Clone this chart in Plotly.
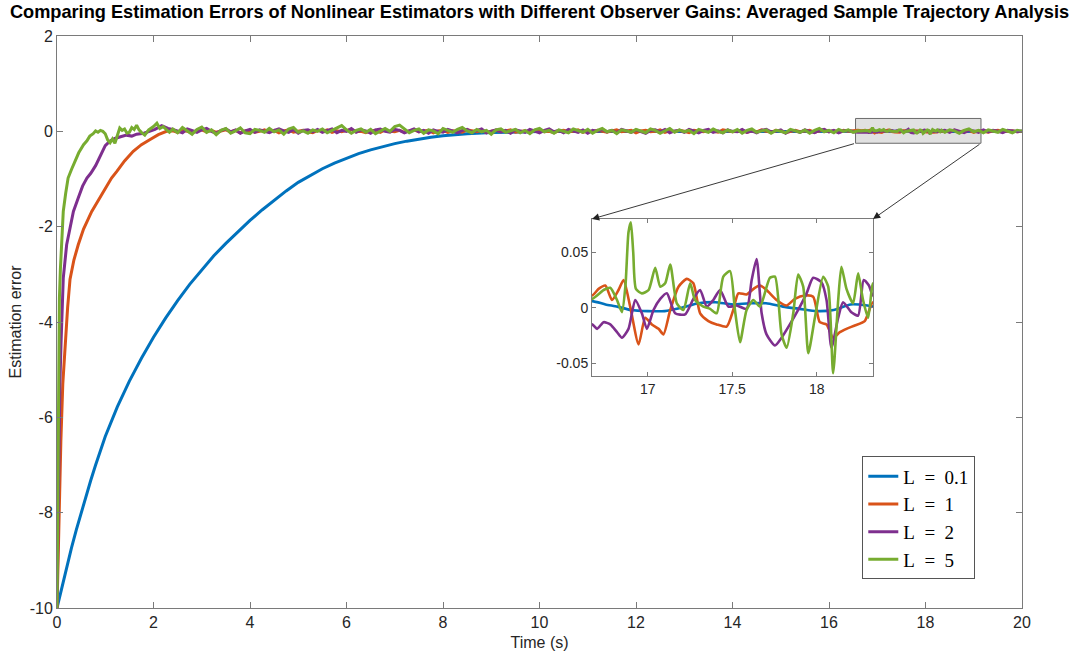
import numpy as np
import plotly.graph_objects as go

# ---------------- data ----------------
# L = 0.1 (slow, smooth decay)
t_l01 = [0, 0.1, 0.2, 0.3, 0.4, 0.5, 0.6, 0.7, 0.8, 0.9, 1.0, 1.25, 1.5, 1.75, 2.0, 2.25,
         2.5, 2.75, 3.0, 3.25, 3.5, 3.75, 4.0, 4.25, 4.5, 4.75, 5.0, 5.25, 5.5, 5.75, 6.0,
         6.25, 6.5, 6.75, 7.0, 7.25, 7.5, 7.75, 8.0, 8.5, 9.0, 9.5, 10.0, 10.5, 11.0, 11.5,
         12.0, 12.5, 13.0, 13.5, 14.0, 14.5, 15.0, 15.5, 16.0, 16.5,
         16.67, 16.75, 16.82, 16.9, 17.0, 17.1, 17.2, 17.3, 17.4, 17.5, 17.6, 17.7, 17.8,
         17.9, 18.0, 18.1, 18.2, 18.3, 18.333,
         18.5, 19.0, 19.5, 20.0]
e_l01 = [-10, -9.56, -9.14, -8.74, -8.36, -8.0, -7.65, -7.32, -7.0, -6.69, -6.40, -5.78,
         -5.24, -4.76, -4.32, -3.92, -3.55, -3.21, -2.90, -2.61, -2.35, -2.10, -1.87, -1.65,
         -1.44, -1.25, -1.07, -0.92, -0.785, -0.665, -0.56,
         -0.468, -0.388, -0.318, -0.258, -0.206, -0.162, -0.125, -0.095, -0.052, -0.027,
         -0.013, -0.005, -0.001, 0.0, 0.004,
         0.003, -0.002, -0.004, 0.0, 0.004, 0.003, -0.002, -0.004, 0.0, 0.004,
         0.006, 0.003, 0.001, -0.002, -0.003, -0.003, 0.0, 0.004, 0.005, 0.003, 0.004,
         0.004, 0.001, -0.001, -0.003, -0.002, 0.003, 0.002, 0.001,
         -0.002, -0.003, 0.001, 0.003]

# transient part of the faster estimators
t_l1_early = [0, 0.04, 0.08, 0.12, 0.17, 0.22, 0.27, 0.35, 0.44, 0.55, 0.72, 0.86, 1.0, 1.13,
              1.24, 1.4, 1.58, 1.75, 1.93, 2.1, 2.27]
e_l1_early = [-10, -8.0, -6.5, -5.3, -4.45, -3.7, -3.1, -2.7, -2.38, -2.05, -1.68, -1.45,
              -1.2, -0.98, -0.84, -0.62, -0.42, -0.28, -0.17, -0.07, 0.0]

t_l2_early = [0, 0.02, 0.04, 0.06, 0.083, 0.13, 0.2, 0.27, 0.34, 0.44, 0.53, 0.62, 0.7, 0.8,
              0.9, 1.0, 1.1, 1.2, 1.3, 1.44, 1.55, 1.65, 1.8, 1.9, 2.03, 2.17, 2.3]
e_l2_early = [-10, -8.0, -6.5, -5.3, -4.47, -3.08, -2.38, -2.0, -1.68, -1.4, -1.15, -0.98,
              -0.88, -0.72, -0.52, -0.3, -0.2, -0.15, -0.12, -0.08, -0.1, -0.06, -0.04,
              -0.01, 0.04, 0.12, 0.06]

t_l5_early = [0, 0.01, 0.02, 0.03, 0.05, 0.07, 0.1, 0.13, 0.18, 0.23, 0.3, 0.37, 0.45, 0.55,
              0.62, 0.68, 0.75, 0.8, 0.85, 0.9, 0.95, 1.0, 1.05, 1.1, 1.15, 1.2, 1.25, 1.3,
              1.35, 1.4, 1.45, 1.5, 1.55, 1.6, 1.65, 1.7, 1.75, 1.82, 1.9, 1.95, 2.0, 2.07,
              2.13, 2.2, 2.27, 2.33]
e_l5_early = [-10, -8.5, -6.5, -4.5, -3.5, -2.9, -2.38, -1.68, -1.3, -0.98, -0.8, -0.63,
              -0.45, -0.28, -0.2, -0.1, -0.05, 0.01, -0.02, 0.02, 0.0, -0.05, -0.18, -0.24,
              -0.16, -0.25, -0.1, 0.07, 0.02, 0.05, -0.04, -0.02, 0.08, 0.04, 0.13, 0.03,
              -0.02, -0.08, 0.03, 0.06, 0.1, 0.17, 0.06, 0.1, 0.04, -0.02]

# steady-state fluctuation, sampled every 0.1 s from 2.4 s to 16.6 s
t_mid = np.round(np.arange(2.4, 16.65, 0.1), 2)
e_l1_mid = [0.01, -0.02, 0.02, 0.00, -0.03, 0.01, 0.03, -0.01, 0.02, -0.02,
            0.00, 0.03, -0.01, 0.02, -0.03, 0.01, 0.02, -0.02, 0.00, 0.03,
            -0.01, 0.02, -0.03, 0.01, 0.03, -0.02, 0.00, 0.02, -0.01, -0.03,
            0.02, 0.00, 0.03, -0.02, 0.01, -0.01, 0.02, 0.04, -0.01, 0.00,
            -0.03, 0.01, 0.02, -0.02, 0.03, 0.00, -0.01, 0.02, -0.02, 0.01,
            0.03, -0.01, 0.00, 0.02, -0.03, 0.01, 0.02, -0.02, 0.01, 0.00,
            -0.02, 0.03, 0.01, -0.01, 0.02, -0.03, 0.00, 0.02, -0.01, 0.01,
            0.03, -0.02, 0.00, 0.01, -0.02, 0.02, 0.04, -0.01, 0.00, -0.03,
            0.01, 0.02, -0.01, 0.00, 0.03, -0.02, 0.01, -0.01, 0.02, 0.00,
            -0.02, 0.01, 0.03, -0.01, 0.00, 0.02, -0.03, 0.01, 0.02, -0.01,
            0.00, 0.03, -0.02, 0.01, -0.01, 0.02, 0.00, -0.03, 0.02, 0.01,
            -0.01, 0.02, 0.00, -0.02, 0.03, 0.01, -0.01, 0.00, 0.02, -0.02,
            0.01, -0.01, 0.03, 0.00, -0.02, 0.02, 0.01, -0.03, 0.00, 0.02,
            -0.01, 0.01, 0.02, -0.02, 0.00, 0.03, -0.01, 0.01, -0.02, 0.02,
            0.00, 0.01, 0.02]
e_l2_mid = [0.04, 0.01, -0.03, 0.05, 0.02, -0.02, 0.03, 0.06, 0.00, -0.04,
            0.02, 0.05, -0.01, 0.03, -0.04, 0.01, 0.04, -0.02, 0.03, 0.00,
            -0.03, 0.02, 0.05, 0.01, -0.02, 0.04, -0.04, 0.02, 0.03, -0.01,
            0.04, -0.02, 0.01, 0.05, -0.03, 0.02, 0.00, 0.06, -0.02, 0.03,
            0.01, -0.04, 0.03, 0.05, 0.00, -0.02, 0.04, 0.02, -0.03, 0.01,
            0.05, -0.01, 0.02, -0.04, 0.03, 0.00, -0.02, 0.04, 0.01, -0.03,
            0.02, 0.04, -0.02, 0.01, 0.05, -0.03, 0.00, 0.03, -0.01, 0.02,
            -0.04, 0.03, 0.01, -0.02, 0.04, 0.00, -0.03, 0.02, 0.05, -0.01,
            0.02, -0.03, 0.04, 0.01, -0.02, 0.03, -0.04, 0.02, 0.00, 0.04,
            -0.01, 0.02, -0.03, 0.04, 0.01, -0.02, 0.03, 0.00, -0.04, 0.02,
            0.03, -0.01, 0.04, -0.03, 0.01, 0.02, -0.02, 0.04, 0.00, -0.03,
            0.02, 0.04, -0.02, 0.01, -0.03, 0.03, 0.00, -0.01, 0.04, -0.02,
            0.01, -0.03, 0.02, 0.04, -0.01, 0.00, 0.03, -0.04, 0.02, 0.01,
            -0.02, 0.03, 0.00, -0.03, 0.02, 0.04, -0.01, 0.02, -0.03, 0.01,
            0.02, -0.01, -0.02]
e_l5_mid = [0.05, -0.03, 0.08, 0.01, -0.06, 0.04, 0.09, -0.02, 0.03, -0.07,
            0.02, 0.06, -0.04, 0.01, 0.07, -0.03, -0.05, 0.04, 0.02, -0.02,
            0.06, -0.01, 0.03, -0.06, 0.05, 0.08, -0.02, 0.01, -0.04, 0.03,
            0.00, 0.05, -0.03, 0.02, 0.07, 0.12, 0.03, -0.04, 0.02, 0.05,
            -0.02, 0.04, -0.05, 0.01, 0.06, 0.00, 0.10, 0.13, 0.04, -0.03,
            0.02, 0.05, -0.04, 0.03, 0.01, -0.05, 0.06, 0.02, -0.02, 0.04,
            0.08, 0.01, -0.03, 0.04, -0.01, 0.02, -0.06, 0.03, 0.05, -0.02,
            0.01, 0.04, -0.03, 0.02, -0.05, 0.03, 0.06, -0.01, 0.02, -0.04,
            0.03, 0.00, -0.03, 0.05, 0.01, -0.02, 0.04, -0.04, 0.02, 0.06,
            -0.01, 0.02, -0.05, 0.03, 0.01, -0.02, 0.04, 0.00, -0.03, 0.05,
            0.02, -0.04, 0.01, 0.06, -0.02, 0.03, -0.01, 0.02, -0.05, 0.04,
            0.01, -0.02, 0.05, 0.00, -0.03, 0.03, -0.01, 0.04, -0.04, 0.02,
            0.05, -0.02, 0.01, 0.03, -0.04, 0.02, 0.00, -0.03, 0.04, 0.01,
            -0.02, 0.03, -0.04, 0.02, 0.06, -0.01, 0.02, -0.03, 0.04, 0.00,
            0.03, -0.02, 0.01]

# finely resolved samples inside the zoomed window
t_l1_zoom = [16.670, 16.709, 16.749, 16.788, 16.827, 16.857, 16.896, 16.946, 16.985, 17.024,
             17.064, 17.093, 17.133, 17.182, 17.231, 17.270, 17.310, 17.359, 17.408, 17.467,
             17.506, 17.536, 17.585, 17.634, 17.664, 17.703, 17.762, 17.822, 17.871, 17.930,
             17.979, 18.018, 18.058, 18.097, 18.137, 18.176, 18.225, 18.284, 18.333]
e_l1_zoom = [0.011, 0.017, 0.020, 0.007, 0.016, 0.025, 0.001, -0.033, -0.009, -0.015,
             -0.019, -0.024, -0.002, 0.019, 0.026, 0.022, -0.005, -0.012, -0.015, -0.017,
             -0.002, 0.013, 0.012, 0.018, 0.020, 0.016, 0.007, 0.002, 0.008, 0.011,
             0.010, -0.013, -0.015, -0.027, -0.022, -0.019, -0.016, -0.012, 0.005]

t_l2_zoom = [16.670, 16.700, 16.739, 16.778, 16.818, 16.847, 16.886, 16.926, 16.965, 16.995,
             17.034, 17.074, 17.113, 17.162, 17.221, 17.270, 17.310, 17.349, 17.388, 17.428,
             17.477, 17.526, 17.585, 17.615, 17.644, 17.674, 17.703, 17.753, 17.792, 17.841,
             17.890, 17.940, 17.979, 18.028, 18.058, 18.087, 18.127, 18.156, 18.205, 18.245,
             18.278, 18.309, 18.333]
e_l2_zoom = [-0.015, -0.019, -0.013, -0.015, -0.022, -0.027, -0.019, 0.007, -0.005, -0.019,
             -0.002, 0.008, 0.013, -0.005, -0.006, 0.008, 0.016, 0.001, 0.007, 0.016,
             0.001, 0.002, -0.001, 0.025, 0.044, -0.005, -0.024, -0.034, -0.027, -0.015,
             -0.002, 0.013, 0.027, 0.023, 0.007, -0.036, -0.009, 0.005, -0.004, -0.007,
             0.025, 0.020, 0.011]

t_l5_zoom = [16.670, 16.739, 16.778, 16.818, 16.847, 16.868, 16.886, 16.900, 16.914, 16.930,
             16.965, 17.005, 17.044, 17.074, 17.103, 17.133, 17.172, 17.211, 17.251, 17.280,
             17.329, 17.369, 17.408, 17.447, 17.487, 17.516, 17.546, 17.585, 17.625, 17.664,
             17.723, 17.753, 17.792, 17.822, 17.861, 17.890, 17.920, 17.950, 17.989, 18.038,
             18.068, 18.097, 18.127, 18.146, 18.176, 18.215, 18.245, 18.274, 18.304, 18.333]
e_l5_zoom = [0.008, 0.016, 0.018, 0.007, -0.004, 0.020, 0.068, 0.077, 0.050, 0.017,
             0.013, 0.016, 0.036, 0.019, 0.022, 0.039, 0.004, -0.002, 0.022, 0.007,
             0.001, -0.001, -0.005, 0.028, 0.033, -0.002, -0.031, -0.002, 0.007, 0.001,
             0.027, 0.028, -0.024, -0.036, -0.005, 0.030, 0.019, -0.041, -0.009, 0.028,
             0.019, -0.059, 0.007, 0.037, 0.017, 0.004, 0.031, 0.007, -0.009, 0.022]

# fluctuation after the zoomed window, every 0.1 s from 18.4 s to 20 s
t_end = np.round(np.arange(18.4, 20.05, 0.1), 2)
e_l1_end = [-0.01, 0.01, 0.02, -0.01, 0.00, 0.02, -0.02, 0.01, 0.00, -0.02, 0.01, 0.02,
            -0.01, 0.00, 0.01, -0.01, 0.00]
e_l2_end = [0.02, -0.02, 0.03, 0.00, -0.03, 0.02, 0.01, -0.02, 0.03, -0.01, 0.02, 0.00,
            -0.03, 0.02, 0.01, -0.01, 0.00]
e_l5_end = [-0.02, 0.03, 0.01, -0.04, 0.02, 0.05, -0.01, 0.02, -0.03, 0.03, 0.00, -0.02,
            0.04, 0.01, -0.03, 0.02, 0.00]

series_names = ["L\u2002=\u20020.1", "L\u2002=\u20021", "L\u2002=\u20022", "L\u2002=\u20025"]
series_colors = ["#0072BD", "#D95319", "#7E2F8E", "#77AC30"]

# zoom window drawn on the main axes, and the range of the inset axes
zoom_box_x = [16.55, 19.15]
zoom_box_y = [-0.25, 0.27]
inset_xrange = [16.67, 18.333]
inset_yrange = [-0.0615, 0.08]

main_xticks = list(range(0, 21, 2))
main_yticks = list(range(-10, 3, 2))
inset_xticks = [17, 17.5, 18]
inset_yticks = [-0.05, 0, 0.05]


def join(*parts):
    out = []
    for p in parts:
        out.extend(list(p))
    return out


def plain_label(v):
    # tick text with an ASCII hyphen for negatives
    return f"{v:g}"


series_t = [
    t_l01,
    join(t_l1_early, t_mid, t_l1_zoom, t_end),
    join(t_l2_early, t_mid, t_l2_zoom, t_end),
    join(t_l5_early, t_mid, t_l5_zoom, t_end),
]
series_e = [
    e_l01,
    join(e_l1_early, e_l1_mid, e_l1_zoom, e_l1_end),
    join(e_l2_early, e_l2_mid, e_l2_zoom, e_l2_end),
    join(e_l5_early, e_l5_mid, e_l5_zoom, e_l5_end),
]

# ---------------- figure ----------------
W, H = 1079, 659
M = dict(l=57, r=57, t=36, b=51)
FONT = "Liberation Sans, Arial, Helvetica, sans-serif"
AXIS_COLOR = "#7a7a7a"
TEXT_COLOR = "#262626"

fig = go.Figure()

for t, e, name, col in zip(series_t, series_e, series_names, series_colors):
    fig.add_trace(go.Scatter(x=t, y=e, mode="lines", name=name,
                             line=dict(color=col, width=3),
                             xaxis="x", yaxis="y"))

for t, e, name, col in zip(series_t, series_e, series_names, series_colors):
    fig.add_trace(go.Scatter(x=t, y=e, mode="lines", name=name, showlegend=False,
                             line=dict(color=col, width=2.6, shape="spline", smoothing=0.6),
                             xaxis="x2", yaxis="y2"))

main_xrange = [0, 20]
main_yrange = [-10, 2]

inset_dom_x = [0.5544, 0.8456]
inset_dom_y = [0.4056, 0.6801]

axis_common = dict(showgrid=False, zeroline=False, showline=True, linecolor=AXIS_COLOR,
                   linewidth=1, mirror="ticks", ticks="inside", tickcolor=AXIS_COLOR)
main_tickfont = dict(family=FONT, size=16, color=TEXT_COLOR)
inset_tickfont = dict(family=FONT, size=14, color=TEXT_COLOR)
title_font = dict(family=FONT, size=16, color=TEXT_COLOR)

fig.update_layout(
    width=W, height=H, margin=M,
    paper_bgcolor="white", plot_bgcolor="white",
    title=dict(text="<b>Comparing Estimation Errors of Nonlinear Estimators with Different "
                    "Observer Gains: Averaged Sample Trajectory Analysis</b>",
               x=0.5, xanchor="center", y=0.982, yanchor="middle",
               font=dict(family=FONT, size=18.2, color="black")),
    xaxis=dict(range=main_xrange, tickvals=main_xticks,
               ticktext=[plain_label(v) for v in main_xticks], ticklen=6,
               tickfont=main_tickfont,
               title=dict(text="Time (s)", font=title_font, standoff=6),
               **axis_common),
    yaxis=dict(range=main_yrange, tickvals=main_yticks,
               ticktext=[plain_label(v) for v in main_yticks], ticklen=6,
               tickfont=main_tickfont,
               title=dict(text="Estimation error", font=title_font, standoff=4),
               **axis_common),
    xaxis2=dict(domain=inset_dom_x, anchor="y2", range=inset_xrange,
                tickvals=inset_xticks, ticktext=[plain_label(v) for v in inset_xticks],
                ticklen=4, tickfont=inset_tickfont, **axis_common),
    yaxis2=dict(domain=inset_dom_y, anchor="x2", range=inset_yrange,
                tickvals=inset_yticks, ticktext=[plain_label(v) for v in inset_yticks],
                ticklen=4, tickfont=inset_tickfont, **axis_common),
    legend=dict(x=0.8345, y=0.265, xanchor="left", yanchor="top",
                bgcolor="white", bordercolor="#555", borderwidth=1,
                font=dict(family="Liberation Serif, DejaVu Serif, serif", size=19, color="black"),
                itemwidth=30, tracegroupgap=0),
    showlegend=True,
)

# zoom window on the main axes
fig.add_shape(type="rect", xref="x", yref="y",
              x0=zoom_box_x[0], x1=zoom_box_x[1], y0=zoom_box_y[0], y1=zoom_box_y[1],
              fillcolor="rgba(200,200,200,0.55)", line=dict(color="#6b6b6b", width=1),
              layer="below")


# connector arrows from the zoom window to the inset's upper corners
def paper_to_data(px, py):
    x = main_xrange[0] + px * (main_xrange[1] - main_xrange[0])
    y = main_yrange[0] + py * (main_yrange[1] - main_yrange[0])
    return x, y


for corner_px, box_x in ((inset_dom_x[0], zoom_box_x[0]), (inset_dom_x[1], zoom_box_x[1])):
    hx, hy = paper_to_data(corner_px, inset_dom_y[1])
    fig.add_annotation(x=hx, y=hy, xref="x", yref="y",
                       ax=box_x, ay=zoom_box_y[0], axref="x", ayref="y",
                       showarrow=True, arrowhead=2, arrowsize=1.6, arrowwidth=0.9,
                       arrowcolor="#222", text="")

fig.write_html("out.html")
